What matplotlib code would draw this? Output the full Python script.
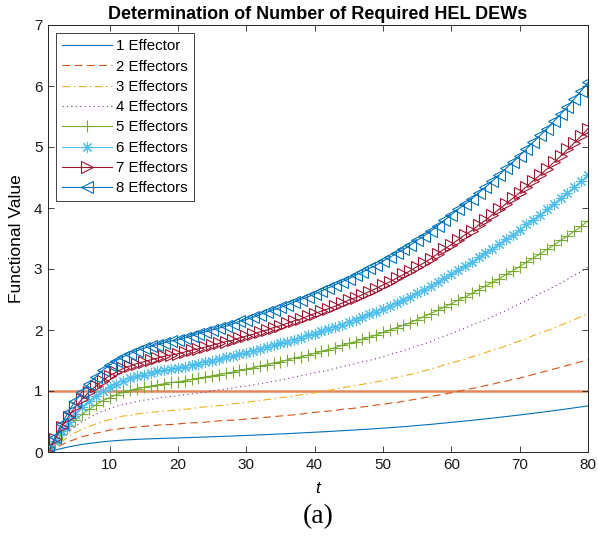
"""
Functional value vs. time for 1..8 HEL DEW effectors (MATLAB-style figure).
"""

import matplotlib
matplotlib.use("Agg")
import matplotlib.pyplot as plt

# ---------------------------------------------------------------------------
# Data (t = 1..80)
# ---------------------------------------------------------------------------

t = list(range(1, 81))

eff1 = [0.000, 0.030, 0.058, 0.083, 0.105, 0.124, 0.140, 0.154, 0.167, 0.178,
        0.187, 0.195, 0.201, 0.207, 0.212, 0.216, 0.220, 0.224, 0.227, 0.230,
        0.234, 0.238, 0.242, 0.246, 0.250, 0.254, 0.258, 0.262, 0.267, 0.271,
        0.276, 0.281, 0.286, 0.291, 0.296, 0.301, 0.307, 0.312, 0.318, 0.324,
        0.330, 0.336, 0.342, 0.349, 0.355, 0.362, 0.369, 0.376, 0.383, 0.391,
        0.399, 0.407, 0.415, 0.424, 0.434, 0.443, 0.453, 0.464, 0.475, 0.486,
        0.497, 0.508, 0.519, 0.531, 0.543, 0.555, 0.568, 0.581, 0.594, 0.607,
        0.621, 0.635, 0.649, 0.663, 0.678, 0.693, 0.708, 0.724, 0.740, 0.757]

eff2 = [0.00, 0.06, 0.12, 0.17, 0.21, 0.25, 0.28, 0.31, 0.33, 0.36,
        0.37, 0.39, 0.40, 0.41, 0.42, 0.43, 0.44, 0.45, 0.45, 0.46,
        0.47, 0.48, 0.48, 0.49, 0.50, 0.51, 0.52, 0.52, 0.53, 0.54,
        0.55, 0.56, 0.57, 0.58, 0.59, 0.60, 0.61, 0.62, 0.64, 0.65,
        0.66, 0.67, 0.68, 0.70, 0.71, 0.72, 0.74, 0.75, 0.77, 0.78,
        0.80, 0.81, 0.83, 0.85, 0.87, 0.89, 0.91, 0.93, 0.95, 0.97,
        0.99, 1.02, 1.04, 1.06, 1.09, 1.11, 1.14, 1.16, 1.19, 1.21,
        1.24, 1.27, 1.30, 1.33, 1.36, 1.39, 1.42, 1.45, 1.48, 1.51]

eff3 = [0.00, 0.09, 0.17, 0.25, 0.32, 0.37, 0.42, 0.46, 0.50, 0.53,
        0.56, 0.59, 0.60, 0.62, 0.64, 0.65, 0.66, 0.67, 0.68, 0.69,
        0.70, 0.71, 0.73, 0.74, 0.75, 0.76, 0.77, 0.79, 0.80, 0.81,
        0.83, 0.84, 0.86, 0.87, 0.89, 0.90, 0.92, 0.94, 0.95, 0.97,
        0.99, 1.01, 1.03, 1.05, 1.07, 1.09, 1.11, 1.13, 1.15, 1.17,
        1.20, 1.22, 1.25, 1.27, 1.30, 1.33, 1.36, 1.39, 1.43, 1.46,
        1.49, 1.52, 1.56, 1.59, 1.63, 1.67, 1.70, 1.74, 1.78, 1.82,
        1.86, 1.91, 1.95, 1.99, 2.03, 2.08, 2.12, 2.17, 2.22, 2.27]

eff4 = [0.00, 0.12, 0.23, 0.33, 0.42, 0.50, 0.56, 0.62, 0.67, 0.71,
        0.75, 0.78, 0.80, 0.83, 0.85, 0.86, 0.88, 0.90, 0.91, 0.92,
        0.94, 0.95, 0.97, 0.98, 1.00, 1.02, 1.03, 1.05, 1.07, 1.08,
        1.10, 1.12, 1.14, 1.16, 1.18, 1.20, 1.23, 1.25, 1.27, 1.30,
        1.32, 1.34, 1.37, 1.40, 1.42, 1.45, 1.48, 1.50, 1.53, 1.56,
        1.60, 1.63, 1.66, 1.70, 1.74, 1.77, 1.81, 1.86, 1.90, 1.94,
        1.99, 2.03, 2.08, 2.12, 2.17, 2.22, 2.27, 2.32, 2.38, 2.43,
        2.48, 2.54, 2.60, 2.65, 2.71, 2.77, 2.83, 2.90, 2.96, 3.03]

eff5 = [0.00, 0.15, 0.29, 0.42, 0.53, 0.62, 0.70, 0.77, 0.84, 0.89,
        0.94, 0.98, 1.01, 1.04, 1.06, 1.08, 1.10, 1.12, 1.14, 1.15,
        1.17, 1.19, 1.21, 1.23, 1.25, 1.27, 1.29, 1.31, 1.34, 1.36,
        1.38, 1.41, 1.43, 1.46, 1.48, 1.51, 1.54, 1.56, 1.59, 1.62,
        1.65, 1.68, 1.71, 1.75, 1.78, 1.81, 1.85, 1.88, 1.92, 1.96,
        2.00, 2.04, 2.08, 2.12, 2.17, 2.22, 2.27, 2.32, 2.38, 2.43,
        2.49, 2.54, 2.60, 2.66, 2.72, 2.78, 2.84, 2.91, 2.97, 3.04,
        3.11, 3.18, 3.25, 3.32, 3.39, 3.47, 3.54, 3.62, 3.70, 3.79]

eff6 = [0.00, 0.18, 0.35, 0.50, 0.63, 0.74, 0.84, 0.92, 1.00, 1.07,
        1.12, 1.17, 1.21, 1.24, 1.27, 1.30, 1.32, 1.34, 1.36, 1.38,
        1.40, 1.43, 1.45, 1.48, 1.50, 1.52, 1.55, 1.57, 1.60, 1.63,
        1.66, 1.69, 1.72, 1.75, 1.78, 1.81, 1.84, 1.87, 1.91, 1.94,
        1.98, 2.02, 2.05, 2.09, 2.13, 2.17, 2.21, 2.26, 2.30, 2.35,
        2.39, 2.44, 2.49, 2.54, 2.60, 2.66, 2.72, 2.78, 2.85, 2.92,
        2.98, 3.05, 3.11, 3.19, 3.26, 3.33, 3.41, 3.49, 3.56, 3.64,
        3.73, 3.81, 3.89, 3.98, 4.07, 4.16, 4.25, 4.34, 4.44, 4.54]

eff7 = [0.00, 0.21, 0.41, 0.58, 0.74, 0.87, 0.98, 1.08, 1.17, 1.25,
        1.31, 1.37, 1.41, 1.45, 1.48, 1.51, 1.54, 1.57, 1.59, 1.61,
        1.64, 1.67, 1.69, 1.72, 1.75, 1.78, 1.81, 1.83, 1.87, 1.90,
        1.93, 1.97, 2.00, 2.04, 2.07, 2.11, 2.15, 2.18, 2.23, 2.27,
        2.31, 2.35, 2.39, 2.44, 2.49, 2.53, 2.58, 2.63, 2.68, 2.74,
        2.79, 2.85, 2.91, 2.97, 3.04, 3.10, 3.17, 3.25, 3.33, 3.40,
        3.48, 3.56, 3.63, 3.72, 3.80, 3.89, 3.98, 4.07, 4.16, 4.25,
        4.35, 4.45, 4.54, 4.64, 4.75, 4.85, 4.96, 5.07, 5.18, 5.30]

eff8 = [0.00, 0.24, 0.46, 0.66, 0.84, 0.99, 1.12, 1.23, 1.34, 1.42,
        1.50, 1.56, 1.61, 1.66, 1.70, 1.73, 1.76, 1.79, 1.82, 1.84,
        1.87, 1.90, 1.94, 1.97, 2.00, 2.03, 2.06, 2.10, 2.14, 2.17,
        2.21, 2.25, 2.29, 2.33, 2.37, 2.41, 2.46, 2.50, 2.54, 2.59,
        2.64, 2.69, 2.74, 2.79, 2.84, 2.90, 2.95, 3.01, 3.06, 3.13,
        3.19, 3.26, 3.32, 3.39, 3.47, 3.54, 3.62, 3.71, 3.80, 3.89,
        3.98, 4.06, 4.15, 4.25, 4.34, 4.44, 4.54, 4.65, 4.75, 4.86,
        4.97, 5.08, 5.19, 5.30, 5.42, 5.54, 5.66, 5.79, 5.92, 6.06]

threshold = 1.0

labels = ["1 Effector", "2 Effectors", "3 Effectors", "4 Effectors",
          "5 Effectors", "6 Effectors", "7 Effectors", "8 Effectors"]

x_ticks = [10, 20, 30, 40, 50, 60, 70, 80]
y_ticks = [0, 1, 2, 3, 4, 5, 6, 7]

# ---------------------------------------------------------------------------
# Styling (MATLAB default colour order)
# ---------------------------------------------------------------------------

COLORS = ["#0072BD", "#D95319", "#EDB120", "#7E2F8E",
          "#77AC30", "#4DBEEE", "#A2142F", "#0072BD"]
LINESTYLES = ["-", (0, (7, 4)), (0, (7, 3, 1.5, 3)), (0, (1, 3)),
              "-", "-", "-", "-"]
MARKERS = [None, None, None, None, "+", (8, 2, 0), ">", "<"]
MARKER_SIZES = [0, 0, 0, 0, 8, 8, 8.5, 8.5]
AXIS_COLOR = "#262626"
FONT = "Liberation Sans"

plt.rcParams.update({
    "font.family": FONT,
    "font.size": 11,
    "axes.linewidth": 0.7,
    "axes.edgecolor": AXIS_COLOR,
    "xtick.direction": "in",
    "ytick.direction": "in",
    "xtick.top": True,
    "ytick.right": True,
    "xtick.major.size": 4,
    "ytick.major.size": 4,
    "xtick.major.width": 0.6,
    "ytick.major.width": 0.6,
    "xtick.color": AXIS_COLOR,
    "ytick.color": AXIS_COLOR,
})

series = [eff1, eff2, eff3, eff4, eff5, eff6, eff7, eff8]

fig = plt.figure(figsize=(5.98, 5.46), dpi=100)
ax = fig.add_axes([48 / 598, 94 / 546, 540 / 598, 427 / 546])

ax.axhline(threshold, color="#E5875E", linewidth=1.8, zorder=1)

for vals, lab, col, ls, mk, ms in zip(series, labels, COLORS, LINESTYLES,
                                      MARKERS, MARKER_SIZES):
    ax.plot(
        t, vals,
        color=col,
        linestyle=ls,
        linewidth=0.8,
        marker=mk,
        markersize=ms,
        markerfacecolor="none",
        markeredgewidth=0.8,
        label=lab,
        zorder=2,
    )

ax.set_xlim(1, 80)
ax.set_ylim(0, 7)
ax.set_xticks(x_ticks)
ax.set_yticks(y_ticks)
ax.tick_params(labelsize=11, labelcolor="#1a1a1a", pad=4)

ax.set_title("Determination of Number of Required HEL DEWs",
             fontsize=13, fontweight="bold", pad=4)
ax.set_ylabel("Functional Value", fontsize=12.5)
ax.yaxis.set_label_coords(-0.045, 0.5)
ax.set_xlabel("t", fontsize=12.5, fontstyle="italic")
ax.xaxis.set_label_coords(0.5, -0.068)

leg = ax.legend(
    loc="upper left",
    fontsize=10.8,
    frameon=True,
    fancybox=False,
    framealpha=1,
    edgecolor=AXIS_COLOR,
    borderaxespad=0.55,
    borderpad=0.4,
    labelspacing=0.42,
    handlelength=3.3,
    handletextpad=0.3,
    numpoints=1,
)
leg.get_frame().set_linewidth(0.6)

fig.text(318 / 598, 1 - 517 / 546, "(a)", ha="center", va="center",
         fontsize=20, family="Liberation Serif")

fig.savefig("out.png", dpi=100)
